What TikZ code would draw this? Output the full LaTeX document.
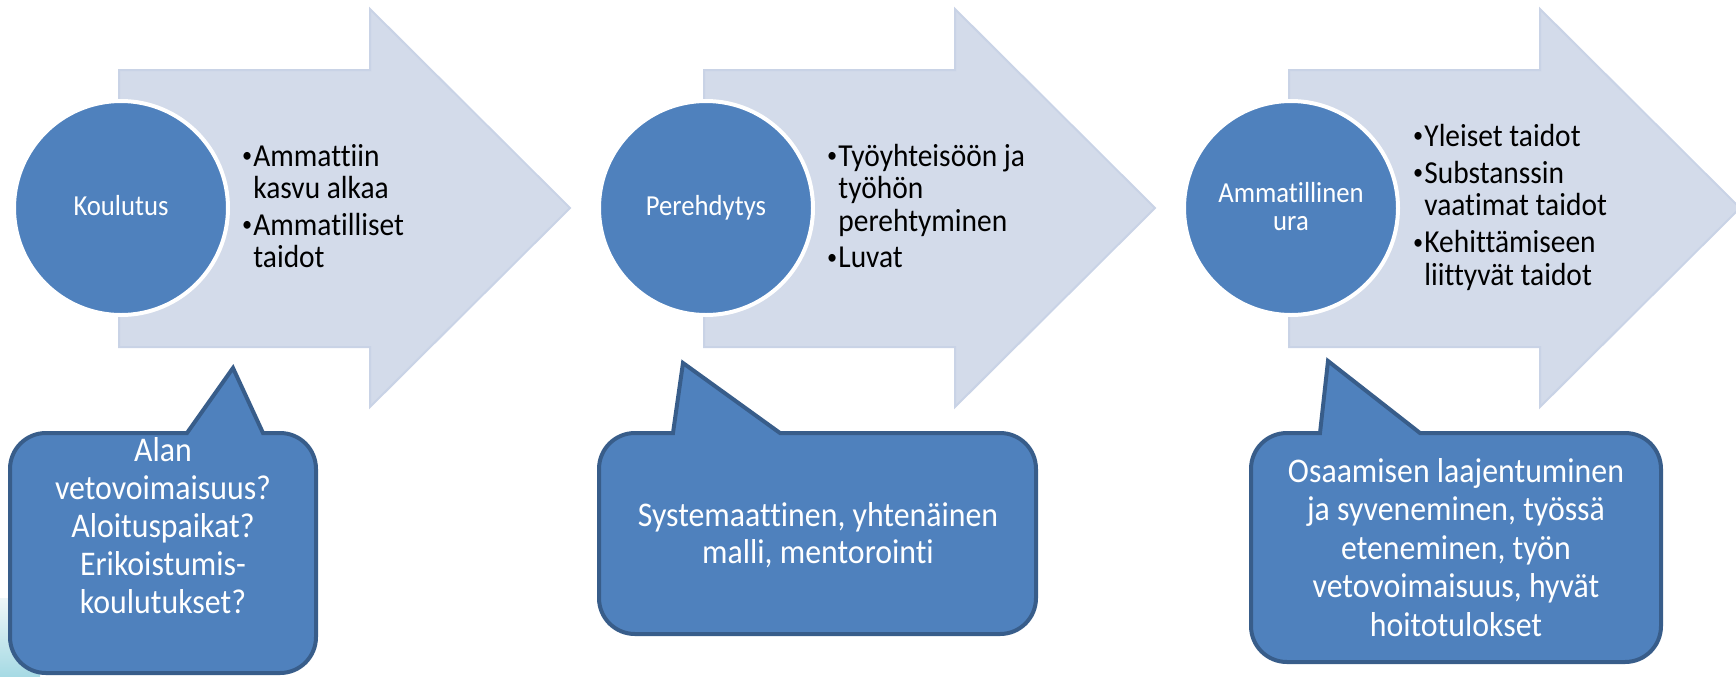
\documentclass[tikz,border=0pt]{standalone}
\usepackage{fontspec}
\newfontfamily\calfont[FakeStretch=0.92,Ligatures={NoCommon}]{Carlito}
\definecolor{acc}{HTML}{4F81BD}
\definecolor{accdark}{HTML}{385D8A}
\definecolor{arrowfill}{HTML}{D3DBEA}
\definecolor{arrowline}{HTML}{C9D3E6}
\definecolor{bgtop}{HTML}{EEF6F8}
\definecolor{bgbot}{HTML}{A6DAE4}
\newcommand{\bul}{\makebox[6pt][l]{\hspace*{0.3pt}\raisebox{1.6pt}{\fontsize{11}{11}\selectfont •}}}
% speech bubble: L, T, R, B, pointer base left, pointer base right, tip x, tip y
\newcommand{\speechbubble}[8]{%
  (#5,#2) -- (#7,#8) -- (#6,#2) -- (#3-36,#2)
  .. controls (#3-16,#2) and (#3,#2+16) .. (#3,#2+36)
  -- (#3,#4-36) .. controls (#3,#4-16) and (#3-16,#4) .. (#3-36,#4)
  -- (#1+36,#4) .. controls (#1+16,#4) and (#1,#4-16) .. (#1,#4-36)
  -- (#1,#2+36) .. controls (#1,#2+16) and (#1+16,#2) .. (#1+36,#2)
  -- cycle}
\begin{document}
\begin{tikzpicture}[x=0.5pt,y=-0.5pt,
  arrowshape/.style={fill=arrowfill, draw=arrowline, line width=1pt},
  stage/.style={circle, fill=acc, draw=white, line width=2pt, minimum size=107pt, inner sep=0pt},
  stagetext/.style={anchor=base, inner sep=0pt, text=white, font=\calfont\fontsize{14.5}{14}\selectfont},
  bullettext/.style={anchor=base west, inner sep=0pt, text=black, font=\calfont\fontsize{16}{16}\selectfont},
  bubble/.style={fill=acc, draw=accdark, line width=2pt},
  bubbletext/.style={anchor=base, inner sep=0pt, text=white, font=\calfont\fontsize{17.3}{19}\selectfont}]
\useasboundingbox (0,0) rectangle (1736,676);

% background fragment at the lower left
\shade[top color=bgtop, bottom color=bgbot] (0,598) rectangle (40,676);

% arrows
\foreach \x in {119,704,1289} {
  \path[arrowshape] (\x,70) -- (\x+251,70) -- (\x+251,9) -- (\x+451,208)
    -- (\x+251,407) -- (\x+251,347) -- (\x,347) -- cycle;
}

% circles
\node[stage] (c1) at (121,208) {};
\node[stage] (c2) at (706,208) {};
\node[stage] (c3) at (1291,208) {};
\node[stagetext] (c1t) at (121,215.5) {Koulutus};
\node[stagetext] (c2t) at (706,215.5) {Perehdytys};
\node[stagetext] (c3ta) at (1291,202) {Ammatillinen};
\node[stagetext] (c3tb) at (1291,230) {ura};

% bullet texts, arrow 1
\node[bullettext] (a1a) at (241,166) {\bul Ammattiin};
\node[bullettext] (a1b) at (253,198.5) {kasvu alkaa};
\node[bullettext] (a1c) at (241,235) {\bul Ammatilliset};
\node[bullettext] (a1d) at (253,267.5) {taidot};

% bullet texts, arrow 2
\node[bullettext] (a2a) at (826,166) {\bul Työyhteisöön ja};
\node[bullettext] (a2b) at (838,198.5) {työhön};
\node[bullettext] (a2c) at (838,231) {perehtyminen};
\node[bullettext] (a2d) at (826,267.5) {\bul Luvat};

% bullet texts, arrow 3
\node[bullettext] (a3a) at (1412,146) {\bul Yleiset taidot};
\node[bullettext] (a3b) at (1412,183) {\bul Substanssin};
\node[bullettext] (a3c) at (1424,215.5) {vaatimat taidot};
\node[bullettext] (a3d) at (1412,252.5) {\bul Kehittämiseen};
\node[bullettext] (a3e) at (1424,285) {liittyvät taidot};

% speech bubbles
\path[bubble] \speechbubble{10}{433}{316}{673}{187}{263}{233}{368};
\path[bubble] \speechbubble{599}{433}{1036}{634}{673}{780}{683}{363};
\path[bubble] \speechbubble{1251}{433}{1661}{662}{1320}{1420}{1328}{361};

% bubble texts
\node[bubbletext] (b1a) at (163,461) {Alan};
\node[bubbletext] (b1b) at (163,499) {vetovoimaisuus?};
\node[bubbletext] (b1c) at (163,537) {Aloituspaikat?};
\node[bubbletext] (b1d) at (163,575) {Erikoistumis-};
\node[bubbletext] (b1e) at (163,613) {koulutukset?};

\node[bubbletext] (b2a) at (818,526) {Systemaattinen, yhtenäinen};
\node[bubbletext] (b2b) at (818,563) {malli, mentorointi};

\node[bubbletext] (b3a) at (1456,482) {Osaamisen laajentuminen};
\node[bubbletext] (b3b) at (1456,520) {ja syveneminen, työssä};
\node[bubbletext] (b3c) at (1456,559) {eteneminen, työn};
\node[bubbletext] (b3d) at (1456,597) {vetovoimaisuus, hyvät};
\node[bubbletext] (b3e) at (1456,636) {hoitotulokset};
\end{tikzpicture}
\end{document}
